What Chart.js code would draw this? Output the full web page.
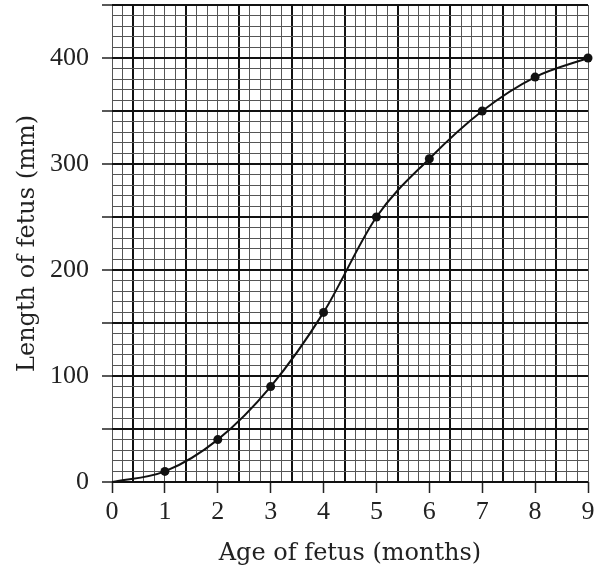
<!DOCTYPE html>
<html lang="en">
<head>
  <meta charset="UTF-8" />
  <title>Length of fetus by age</title>
  <script src="https://cdn.jsdelivr.net/npm/chart.js"></script>
  <style>
    html, body {
      margin: 0;
      padding: 0;
      background: #fff;
    }

    .wrap {
      width: 606px;
      height: 570px;
    }
  </style>
</head>
<body>
  <div class="wrap">
    <canvas id="fetusChart"></canvas>
  </div>

  <script>
    // values
    const months = [0, 1, 2, 3, 4, 5, 6, 7, 8, 9];
    const lengths = [0, 10, 40, 90, 160, 250, 305, 350, 382, 400];

    const xTickLabels = ['0', '1', '2', '3', '4', '5', '6', '7', '8', '9'];
    const yTickLabels = ['0', '100', '200', '300', '400'];

    const serifTicks = "'Liberation Serif', 'Times New Roman', serif";
    const serifTitle = "'DejaVu Serif', 'Liberation Serif', serif";

    // graph paper: fine lines every 0.2 month / 10 mm, heavy every 5 squares
    const minorCol = '#555';
    const majorCol = '#111';

    const ctx = document.getElementById('fetusChart').getContext('2d');
    new Chart(ctx, {
      type: 'line',
      data: {
        datasets: [{
          data: months.map((m, i) => ({ x: m, y: lengths[i] })),
          borderColor: '#111',
          borderWidth: 2,
          backgroundColor: '#111',
          pointBackgroundColor: '#111',
          pointBorderWidth: 0,
          pointRadius: c => c.dataIndex === 0 ? 0 : 4.5,
          cubicInterpolationMode: 'monotone',
          fill: false,
          clip: false
        }]
      },
      options: {
        responsive: true,
        maintainAspectRatio: false,
        animation: false,
        layout: {
          padding: { top: 5, right: 18, left: 0, bottom: 0 }
        },
        plugins: {
          legend: { display: false },
          tooltip: { enabled: false }
        },
        scales: {
          x: {
            type: 'linear',
            min: 0,
            max: 9,
            afterBuildTicks: scale => {
              scale.ticks = Array.from({ length: 46 }, (_, i) => ({ value: i / 5 }));
            },
            afterFit: scale => {
              scale.height = 88;
              scale.paddingLeft = 0;
              scale.paddingRight = 0;
            },
            border: { display: false },
            grid: {
              color: c => Math.round(c.tick.value * 5) % 5 === 2 ? majorCol : minorCol,
              lineWidth: c => Math.round(c.tick.value * 5) % 5 === 2 ? 2 : 1,
              drawTicks: true,
              tickLength: 11,
              tickWidth: 1.5,
              tickColor: c => Number.isInteger(c.tick.value) ? '#222' : 'rgba(0,0,0,0)'
            },
            ticks: {
              autoSkip: false,
              maxRotation: 0,
              padding: 4,
              color: '#222',
              font: { family: serifTicks, size: 26 },
              callback: v => Number.isInteger(v) ? xTickLabels[v] : ''
            },
            title: {
              display: true,
              text: 'Age of fetus (months)',
              color: '#222',
              font: { family: serifTitle, size: 24 },
              padding: { top: 0, bottom: 2 }
            }
          },
          y: {
            min: 0,
            max: 450,
            afterBuildTicks: scale => {
              scale.ticks = Array.from({ length: 46 }, (_, i) => ({ value: i * 10 }));
            },
            afterFit: scale => {
              scale.width = 112;
              scale.paddingTop = 0;
              scale.paddingBottom = 0;
            },
            border: { display: false },
            grid: {
              color: c => c.tick.value % 50 === 0 ? majorCol : minorCol,
              lineWidth: c => c.tick.value % 50 === 0 ? 2 : 1,
              drawTicks: true,
              tickLength: 10,
              tickWidth: 1.5,
              tickColor: c => c.tick.value % 50 === 0 ? '#222' : 'rgba(0,0,0,0)'
            },
            ticks: {
              autoSkip: false,
              padding: 13,
              color: '#222',
              font: { family: serifTicks, size: 26 },
              callback: v => v % 100 === 0 ? yTickLabels[v / 100] : ''
            },
            title: {
              display: true,
              text: 'Length of fetus (mm)',
              color: '#222',
              font: { family: serifTitle, size: 24 },
              padding: { top: 13, bottom: 0 }
            }
          }
        }
      }
    });
  </script>
</body>
</html>
